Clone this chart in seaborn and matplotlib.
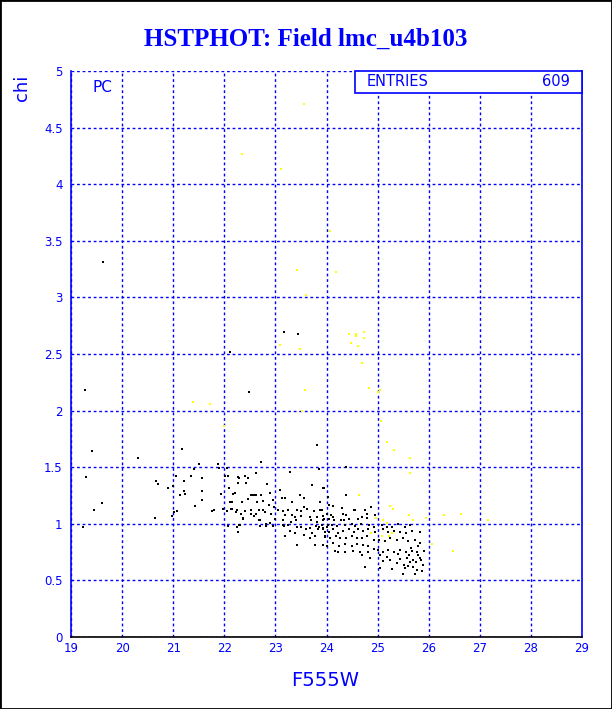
import numpy as np
import pandas as pd
import matplotlib
matplotlib.use('Agg')
import matplotlib.pyplot as plt
import seaborn as sns
from matplotlib.patches import Rectangle
from matplotlib.ticker import MultipleLocator

# F555W magnitude and chi values
# black points (main population)
black_x = [19.27, 19.63, 19.42, 19.29, 19.60, 19.46, 19.24, 20.32, 22.12, 22.48,
           21.17, 20.64, 20.66, 20.70, 20.89, 20.99, 21.05, 21.02, 21.07, 20.98,
           21.13, 21.21, 21.24, 21.22, 21.34, 21.40, 21.42, 21.50, 21.56, 21.56,
           21.56, 21.76, 21.79, 21.87, 21.90, 21.94, 21.97, 22.01, 22.05, 22.07,
           22.05, 22.07, 22.09, 22.11, 22.14, 22.18, 22.22, 22.24, 22.26, 22.27,
           22.31, 22.36, 22.41, 22.42, 22.46, 22.47, 22.52, 22.57, 22.52, 22.41,
           22.59, 22.63, 22.64, 22.68, 22.68, 22.63,
           23.17, 23.44, 23.81, 22.71, 23.85, 24.38, 23.29,
           22.29, 22.27, 22.83, 23.71, 23.96, 23.09, 22.20, 22.89, 23.48, 22.60,
           22.71, 23.12, 23.19, 23.55, 22.96, 24.02, 22.16, 22.34, 22.75, 23.32,
           23.87, 22.87, 22.97, 23.55, 22.15, 22.25, 22.52, 22.76, 23.06, 23.14,
           23.25, 23.42, 23.50, 23.62, 23.76, 23.87, 22.23, 22.32, 22.62, 22.80,
           22.91, 23.19, 23.32, 23.38, 23.51, 23.68, 23.81, 23.94, 22.37, 22.70,
           23.00, 23.15, 23.30, 23.40, 23.70, 23.82, 23.96, 22.29, 22.70, 22.81,
           22.89, 23.15, 23.25, 23.42, 23.51, 23.59, 23.68, 23.79, 23.86, 23.94,
           24.02, 23.29, 23.38, 23.56, 23.71, 23.84, 23.97, 23.19, 23.68, 23.77,
           23.97, 23.42, 23.77, 24.00, 24.23, 22.82, 22.96, 23.17,
           24.38, 23.94, 24.05, 24.12, 24.30, 24.53, 24.56, 24.75, 24.88, 23.91,
           24.00, 24.08, 24.12, 24.32, 24.38, 24.69, 24.79, 24.95, 23.94, 24.04,
           24.15, 24.28, 24.34, 24.44, 24.61, 24.79, 23.91, 24.00, 24.10, 24.20,
           24.36, 24.49, 24.56, 24.67, 24.84, 24.92, 25.08, 25.18, 25.29, 25.39,
           25.54, 25.63, 23.93, 24.04, 24.13, 24.23, 24.33, 24.45, 24.53, 24.61,
           24.71, 24.82, 24.95, 25.11, 25.21, 25.32, 25.44, 25.56, 25.67, 25.82,
           23.97, 24.07, 24.19, 24.26, 24.38, 24.49, 24.59, 24.69, 24.79, 24.92,
           25.03, 25.14, 25.24, 25.37, 25.49, 25.60, 25.73, 25.83, 23.94, 24.13,
           24.25, 24.36, 24.49, 24.59, 24.72, 24.82, 24.92, 25.01, 25.11, 25.21,
           25.32, 25.44, 25.56, 25.67, 25.77, 25.90, 24.17, 24.36, 24.52, 24.82,
           24.85, 25.05, 25.11, 25.24, 25.44, 25.58, 25.70, 25.83, 24.66, 24.69,
           25.05, 25.28, 25.54, 25.70, 25.77, 24.75, 25.37, 25.63, 25.18, 25.73,
           25.86, 25.50, 25.29,
           25.62, 25.75, 25.80, 25.88, 25.66, 25.52, 25.40, 25.79, 25.85, 25.60]
black_y = [2.18, 3.31, 1.64, 1.41, 1.18, 1.12, 0.97, 1.58, 2.52, 2.16,
           1.66, 1.05, 1.38, 1.35, 1.32, 1.33, 1.42, 1.10, 1.11, 1.07,
           1.25, 1.29, 1.26, 1.38, 1.42, 1.48, 1.16, 1.53, 1.40, 1.29,
           1.21, 1.11, 1.12, 1.53, 1.49, 1.26, 1.13, 1.42, 1.49, 1.42,
           1.11, 0.98, 1.32, 1.19, 1.13, 1.26, 1.10, 0.97, 0.93, 1.41,
           0.99, 1.05, 1.42, 1.36, 1.40, 1.22, 1.25, 1.25, 1.09, 1.11,
           1.07, 1.25, 1.19, 1.12, 1.03, 1.45,
           2.69, 2.68, 1.70, 1.55, 1.48, 1.50, 1.46,
           1.40, 1.36, 1.35, 1.34, 1.32, 1.30, 1.27, 1.27, 1.25, 1.25,
           1.25, 1.23, 1.23, 1.23, 1.21, 1.24, 1.19, 1.19, 1.20, 1.19,
           1.19, 1.17, 1.15, 1.15, 1.13, 1.12, 1.12, 1.12, 1.12, 1.11,
           1.12, 1.12, 1.11, 1.13, 1.11, 1.12, 1.10, 1.09, 1.09, 1.10,
           1.09, 1.08, 1.08, 1.06, 1.07, 1.06, 1.06, 1.07, 1.04, 1.03,
           1.04, 1.03, 1.02, 1.03, 1.03, 1.02, 1.04, 0.99, 0.98, 1.00,
           1.01, 0.99, 0.99, 0.97, 0.97, 0.95, 0.96, 0.98, 0.97, 0.96,
           0.99, 0.94, 0.92, 0.90, 0.92, 0.95, 0.93, 0.89, 0.87, 0.89,
           0.89, 0.81, 0.81, 0.80, 0.75, 0.98, 0.98, 0.98,
           1.25, 1.32, 1.17, 1.16, 1.14, 1.12, 1.12, 1.12, 1.15, 1.12,
           1.09, 1.08, 1.06, 1.09, 1.08, 1.06, 1.09, 1.08, 1.03, 1.04,
           1.03, 1.03, 1.03, 1.04, 1.04, 1.05, 0.99, 0.97, 0.99, 0.98,
           0.99, 1.00, 0.98, 1.00, 0.99, 0.97, 0.99, 0.97, 0.97, 1.00,
           0.97, 0.99, 0.95, 0.93, 0.95, 0.92, 0.94, 0.95, 0.93, 0.95,
           0.94, 0.95, 0.93, 0.95, 0.93, 0.94, 0.93, 0.92, 0.94, 0.93,
           0.88, 0.87, 0.89, 0.87, 0.87, 0.89, 0.87, 0.87, 0.89, 0.86,
           0.86, 0.85, 0.87, 0.86, 0.87, 0.85, 0.86, 0.83, 0.81, 0.83,
           0.80, 0.82, 0.80, 0.82, 0.81, 0.80, 0.78, 0.77, 0.75, 0.77,
           0.75, 0.77, 0.75, 0.76, 0.75, 0.76, 0.76, 0.75, 0.76, 0.75,
           0.70, 0.72, 0.67, 0.68, 0.69, 0.70, 0.68, 0.70, 0.75, 0.72,
           0.61, 0.60, 0.61, 0.62, 0.59, 0.62, 0.65, 0.66, 0.71, 0.56,
           0.58, 0.56, 0.60,
           0.72, 0.66, 0.72, 0.64, 0.79, 0.64, 0.73, 0.80, 0.68, 0.63]

# yellow points (flagged objects)
yellow_x = [23.56, 22.34, 23.10, 24.07, 23.42, 24.19, 23.60, 24.44, 24.57, 24.58,
            24.73, 24.48, 24.62, 24.73, 23.09, 23.48, 24.69, 23.58, 24.83, 25.01,
            25.05, 21.38, 21.72, 23.52, 22.00, 25.06, 25.18, 25.32, 25.63, 25.63,
            24.64, 25.24, 25.30, 24.97, 25.10, 25.18, 25.62, 25.69, 25.95, 26.30,
            26.63, 27.16, 24.87, 25.29, 25.22, 25.08, 26.06, 26.47]
yellow_y = [4.71, 4.27, 4.13, 3.59, 3.24, 3.22, 3.02, 2.68, 2.68, 2.66,
            2.69, 2.60, 2.57, 2.64, 2.58, 2.54, 2.42, 2.18, 2.20, 2.16,
            2.18, 2.08, 2.06, 2.00, 1.86, 1.91, 1.72, 1.65, 1.58, 1.45,
            1.25, 1.16, 1.13, 1.05, 1.03, 1.01, 1.08, 1.03, 1.05, 1.08,
            1.09, 1.03, 0.92, 0.92, 0.89, 0.89, 0.82, 0.76]

n_entries = 609
title = 'HSTPHOT: Field lmc_u4b103'

blue = '#0000ff'

sns.set_style('white')
plt.rcParams['font.family'] = ['DejaVu Sans']

fig = plt.figure(figsize=(6.12, 7.09), dpi=100)
ax = fig.add_axes([0.116, 0.1016, 0.835, 0.7983])

black = pd.DataFrame({'F555W': black_x, 'chi': black_y})
yellow = pd.DataFrame({'F555W': yellow_x, 'chi': yellow_y})
sns.scatterplot(data=black, x='F555W', y='chi', color='black', marker='s',
                s=4.5, linewidth=0, ax=ax, zorder=3)
sns.scatterplot(data=yellow, x='F555W', y='chi', color='#ffff00', marker='s',
                s=4.5, linewidth=0, ax=ax, zorder=4)

ax.set_xlim(19, 29)
ax.set_ylim(0, 5)
ax.xaxis.set_major_locator(MultipleLocator(1))
ax.xaxis.set_minor_locator(MultipleLocator(0.2))
ax.yaxis.set_major_locator(MultipleLocator(0.5))
ax.yaxis.set_minor_locator(MultipleLocator(0.1))
ax.set_yticks(np.arange(0, 5.01, 0.5))
ax.set_yticklabels(['0', '0.5', '1', '1.5', '2', '2.5', '3', '3.5', '4', '4.5', '5'])

ax.tick_params(which='major', direction='in', length=8, width=1, color=blue,
               labelcolor=blue, labelsize=8.5, top=False, right=False)
ax.tick_params(which='minor', direction='in', length=5, width=1, color=blue,
               top=False, right=False)
ax.tick_params(axis='y', pad=6)

ax.grid(True, which='major', color=blue, linestyle=(0, (2, 2)), linewidth=1)
ax.set_axisbelow(True)

ax.spines['top'].set_visible(False)
ax.spines['left'].set_color(blue)
ax.spines['right'].set_color(blue)
ax.spines['bottom'].set_color('black')
for s in ax.spines.values():
    s.set_linewidth(1.2)

ax.set_xlabel('')
ax.set_ylabel('')
fig.text(0.531, 0.0395, 'F555W', color=blue, fontsize=14, ha='center', va='center')
fig.text(0.036, 0.876, 'chi', color=blue, fontsize=13, rotation=90,
         ha='center', va='center')

# statistics box
ax.add_patch(Rectangle((0.556, 0.961), 0.444, 0.039, transform=ax.transAxes,
                       facecolor='white', edgecolor=blue, linewidth=1.2,
                       zorder=5, clip_on=False))
ax.text(0.579, 0.981, 'ENTRIES', transform=ax.transAxes, color=blue,
        fontsize=10.5, ha='left', va='center', zorder=6)
ax.text(0.977, 0.981, str(n_entries), transform=ax.transAxes, color=blue,
        fontsize=10.5, ha='right', va='center', zorder=6)
ax.text(0.043, 0.97, 'PC', transform=ax.transAxes, color=blue,
        fontsize=11, ha='left', va='center', zorder=6)

fig.suptitle(title, y=0.944, color=blue, fontsize=18, fontweight='bold',
             family='Liberation Serif', va='center')

# frame around the whole picture
fig.patches.append(Rectangle((0, 0), 1, 1, transform=fig.transFigure,
                             fill=False, edgecolor='black', linewidth=2))

fig.savefig('out.png', dpi=100)
